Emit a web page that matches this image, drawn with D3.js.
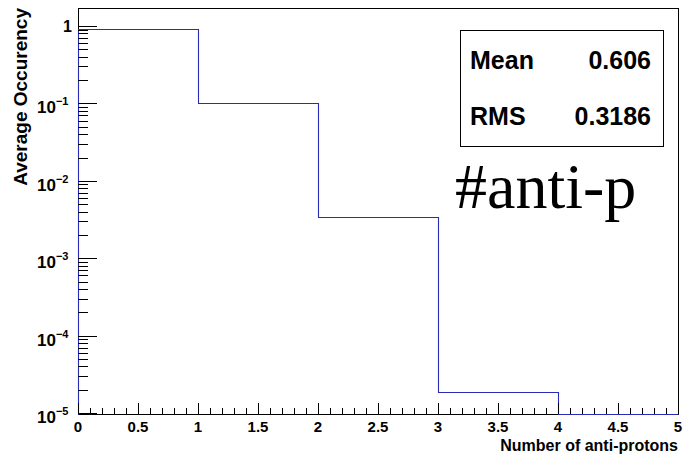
<!DOCTYPE html>
<html>
<head>
<meta charset="utf-8">
<script src="https://cdn.jsdelivr.net/npm/d3@7"></script>
<style>
  body { margin: 0; background: #fff; }
  svg { display: block; }
</style>
</head>
<body>
<svg width="685" height="456"></svg>
<script>
// bins of the histogram (low edges) and average occupancy per bin
var binEdges = [0, 1, 2, 3, 4, 5];
var occupancy = [0.906, 0.1, 0.0034, 1.88e-5, 0];
var xTickLabels = ["0", "0.5", "1", "1.5", "2", "2.5", "3", "3.5", "4", "4.5", "5"];
var yDecades = [0, -1, -2, -3, -4, -5];
var statNames = ["Mean", "RMS"];
var statValues = ["0.606", "0.3186"];

var svg = d3.select("svg");
var fLeft = 78, fRight = 678, fTop = 8, fBottom = 414;
var font = "'Liberation Sans', Arial, Helvetica, sans-serif";

var x = d3.scaleLinear().domain([0, 5]).range([fLeft, fRight]);
var y = d3.scaleLog().domain([9.71e-6, 1.708]).range([fBottom, fTop]);

// frame
svg.append("rect")
  .attr("x", fLeft + 0.5).attr("y", fTop + 0.5)
  .attr("width", fRight - fLeft).attr("height", fBottom - fTop)
  .attr("fill", "none").attr("stroke", "#000").attr("stroke-width", 1);

// histogram step line
var pts = [];
var floorV = y.domain()[0];
pts.push([x(binEdges[0]), y(floorV)]);
occupancy.forEach(function(v, i) {
  var vv = v > floorV ? v : floorV;
  pts.push([x(binEdges[i]), y(vv)]);
  pts.push([x(binEdges[i + 1]), y(vv)]);
});
svg.append("path")
  .attr("d", d3.line()(pts.map(function(p) { return [Math.round(p[0]) + 0.5, Math.round(p[1]) + 0.5]; })))
  .attr("fill", "none")
  .attr("stroke", "#2a2ab8")
  .attr("stroke-width", 1.1);

// x axis ticks (major 0.5, minor 0.1)
var g = svg.append("g").attr("stroke", "#000").attr("stroke-width", 1);
d3.range(0, 51).forEach(function(k) {
  var v = k / 10;
  var len = (k % 5 == 0) ? 11 : 6;
  var px = Math.round(x(v)) + 0.5;
  g.append("line").attr("x1", px).attr("x2", px)
    .attr("y1", fBottom).attr("y2", fBottom - len);
});
svg.selectAll(".xl").data(xTickLabels).enter().append("text")
  .attr("x", function(d) { return x(+d); })
  .attr("y", 432)
  .attr("text-anchor", "middle")
  .attr("font-family", font).attr("font-weight", "bold")
  .attr("font-size", 15)
  .text(function(d) { return d; });

// y axis ticks (decades + minor)
yDecades.forEach(function(e) {
  var py = Math.round(y(Math.pow(10, e))) + 0.5;
  g.append("line").attr("x1", fLeft).attr("x2", fLeft + 19)
    .attr("y1", py).attr("y2", py);
  d3.range(2, 10).forEach(function(m) {
    var v = m * Math.pow(10, e);
    if (v > y.domain()[1]) return;
    var q = Math.round(y(v)) + 0.5;
    g.append("line").attr("x1", fLeft).attr("x2", fLeft + 10)
      .attr("y1", q).attr("y2", q);
  });
});

// y labels
yDecades.forEach(function(e) {
  var py = y(Math.pow(10, e));
  if (e == 0) {
    svg.append("text").attr("x", 72).attr("y", py + 6)
      .attr("text-anchor", "end")
      .attr("font-family", font).attr("font-weight", "bold").attr("font-size", 16)
      .text("1");
  } else {
    var t = svg.append("text").attr("x", 37).attr("y", py + 10)
      .attr("font-family", font).attr("font-weight", "bold").attr("font-size", 17);
    t.append("tspan").text("10");
    t.append("tspan").attr("dy", -8).attr("font-size", 11).text("\u2212" + (-e));
  }
});

// axis titles
svg.append("text")
  .attr("x", fRight).attr("y", 451)
  .attr("text-anchor", "end")
  .attr("font-family", font).attr("font-weight", "bold").attr("font-size", 16)
  .text("Number of anti-protons");
svg.append("text")
  .attr("transform", "translate(27," + fTop + ") rotate(-90)")
  .attr("text-anchor", "end")
  .attr("font-family", font).attr("font-weight", "bold").attr("font-size", 19)
  .text("Average Occurency");

// stats box
svg.append("rect")
  .attr("x", 460.5).attr("y", 30.5).attr("width", 203).attr("height", 116)
  .attr("fill", "#fff").attr("stroke", "#000").attr("stroke-width", 1);
statNames.forEach(function(s, i) {
  svg.append("text").attr("x", 470).attr("y", 69 + i * 56)
    .attr("font-family", font).attr("font-weight", "bold").attr("font-size", 25)
    .text(s);
  svg.append("text").attr("x", 651).attr("y", 69 + i * 56)
    .attr("text-anchor", "end")
    .attr("font-family", font).attr("font-weight", "bold").attr("font-size", 25)
    .text(statValues[i]);
});

// label
svg.append("text").attr("x", 455).attr("y", 208)
  .attr("font-family", "'Liberation Serif', 'Times New Roman', serif")
  .attr("font-size", 64)
  .text("#anti-p");
</script>
</body>
</html>
